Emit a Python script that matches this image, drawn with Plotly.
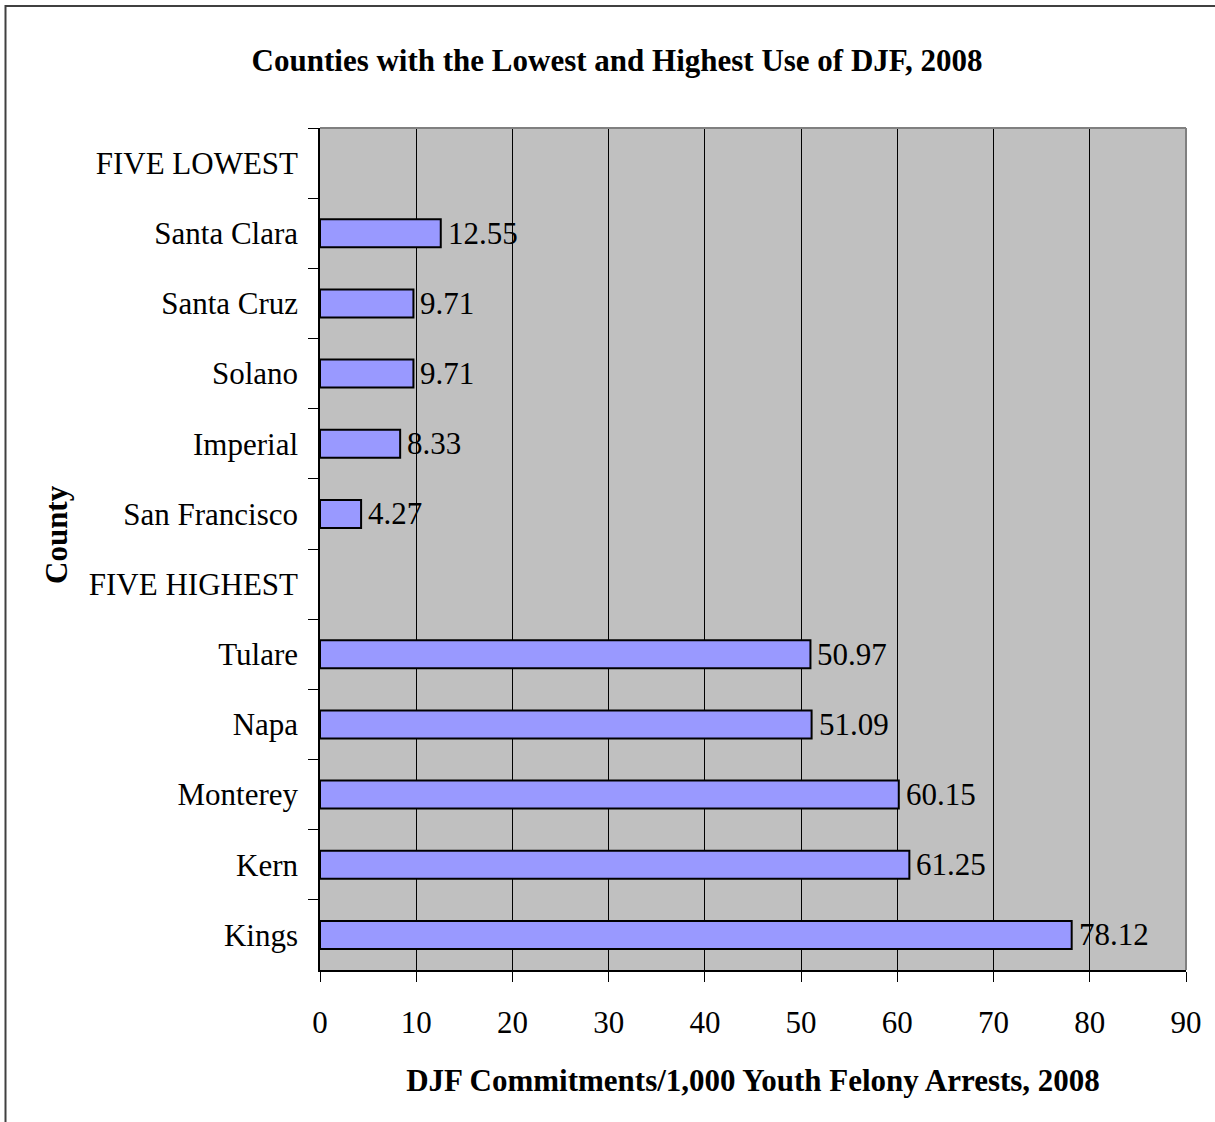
import plotly.graph_objects as go

counties = ["FIVE LOWEST", "Santa Clara", "Santa Cruz", "Solano", "Imperial", "San Francisco",
            "FIVE HIGHEST", "Tulare", "Napa", "Monterey", "Kern", "Kings"]
values = [None, 12.55, 9.71, 9.71, 8.33, 4.27, None, 50.97, 51.09, 60.15, 61.25, 78.12]
x_ticks = [0, 10, 20, 30, 40, 50, 60, 70, 80, 90]

FONT = "Liberation Serif, Times New Roman, serif"

fig = go.Figure(go.Bar(
    y=counties, x=values, orientation="h",
    marker=dict(color="#9999FF", line=dict(color="black", width=2)),
    width=0.4,
))

for c, v in zip(counties, values):
    if v is None:
        continue
    fig.add_annotation(x=v, y=c, xref="x", yref="y", text=f"{v:.2f}",
                       showarrow=False, xanchor="left", yanchor="middle", xshift=5,
                       font=dict(family=FONT, size=31, color="black"))

W, H = 1215, 1122
L, R, T, B = 320, 29, 128, 152
pw, ph = W - L - R, H - T - B

def px(x):
    return (x - L) / pw

def py(y):
    return (H - B - y) / ph

fig.add_annotation(x=px(56), y=py(535), xref="paper", yref="paper", text="<b>County</b>",
                   textangle=-90, showarrow=False, xanchor="center", yanchor="middle",
                   font=dict(family=FONT, size=31, color="black"))

fig.update_layout(
    width=W, height=H,
    margin=dict(l=L, r=R, t=T, b=B),
    paper_bgcolor="white", plot_bgcolor="#C0C0C0",
    showlegend=False,
    font=dict(family=FONT, color="black"),
    title=dict(text="<b>Counties with the Lowest and Highest Use of DJF, 2008</b>",
               x=px(617), xref="paper", xanchor="center",
               y=1 - 60 / H, yanchor="middle",
               font=dict(family=FONT, size=31, color="black")),
    xaxis=dict(range=[0, 90], tickvals=x_ticks, ticktext=[str(t) for t in x_ticks],
               showgrid=True, gridcolor="black", gridwidth=1,
               showline=True, linecolor="black", linewidth=1.5,
               ticks="outside", ticklen=10, tickcolor="black", tickwidth=1,
               ticklabelstandoff=14,
               tickfont=dict(family=FONT, size=31, color="black"),
               zeroline=False,
               title=dict(text="<b>DJF Commitments/1,000 Youth Felony Arrests, 2008</b>",
                          font=dict(family=FONT, size=31, color="black"), standoff=30)),
    yaxis=dict(categoryorder="array", categoryarray=counties, autorange="reversed",
               type="category",
               showline=True, linecolor="black", linewidth=1.5,
               ticks="outside", ticklen=10, tickcolor="black", tickwidth=1,
               tickson="boundaries", showgrid=False,
               ticklabelstandoff=14,
               tickfont=dict(family=FONT, size=31, color="black")),
    shapes=[
        dict(type="line", xref="paper", yref="paper", x0=0, x1=1, y0=1, y1=1,
             line=dict(color="#808080", width=2)),
        dict(type="line", xref="paper", yref="paper", x0=1, x1=1, y0=0, y1=1,
             line=dict(color="#808080", width=2)),
        dict(type="rect", xref="paper", yref="paper",
             x0=px(5.5), x1=px(1240), y0=py(1150), y1=py(6),
             line=dict(color="#404040", width=2), fillcolor="rgba(0,0,0,0)", layer="above"),
    ],
)

fig.write_html("out.html")
